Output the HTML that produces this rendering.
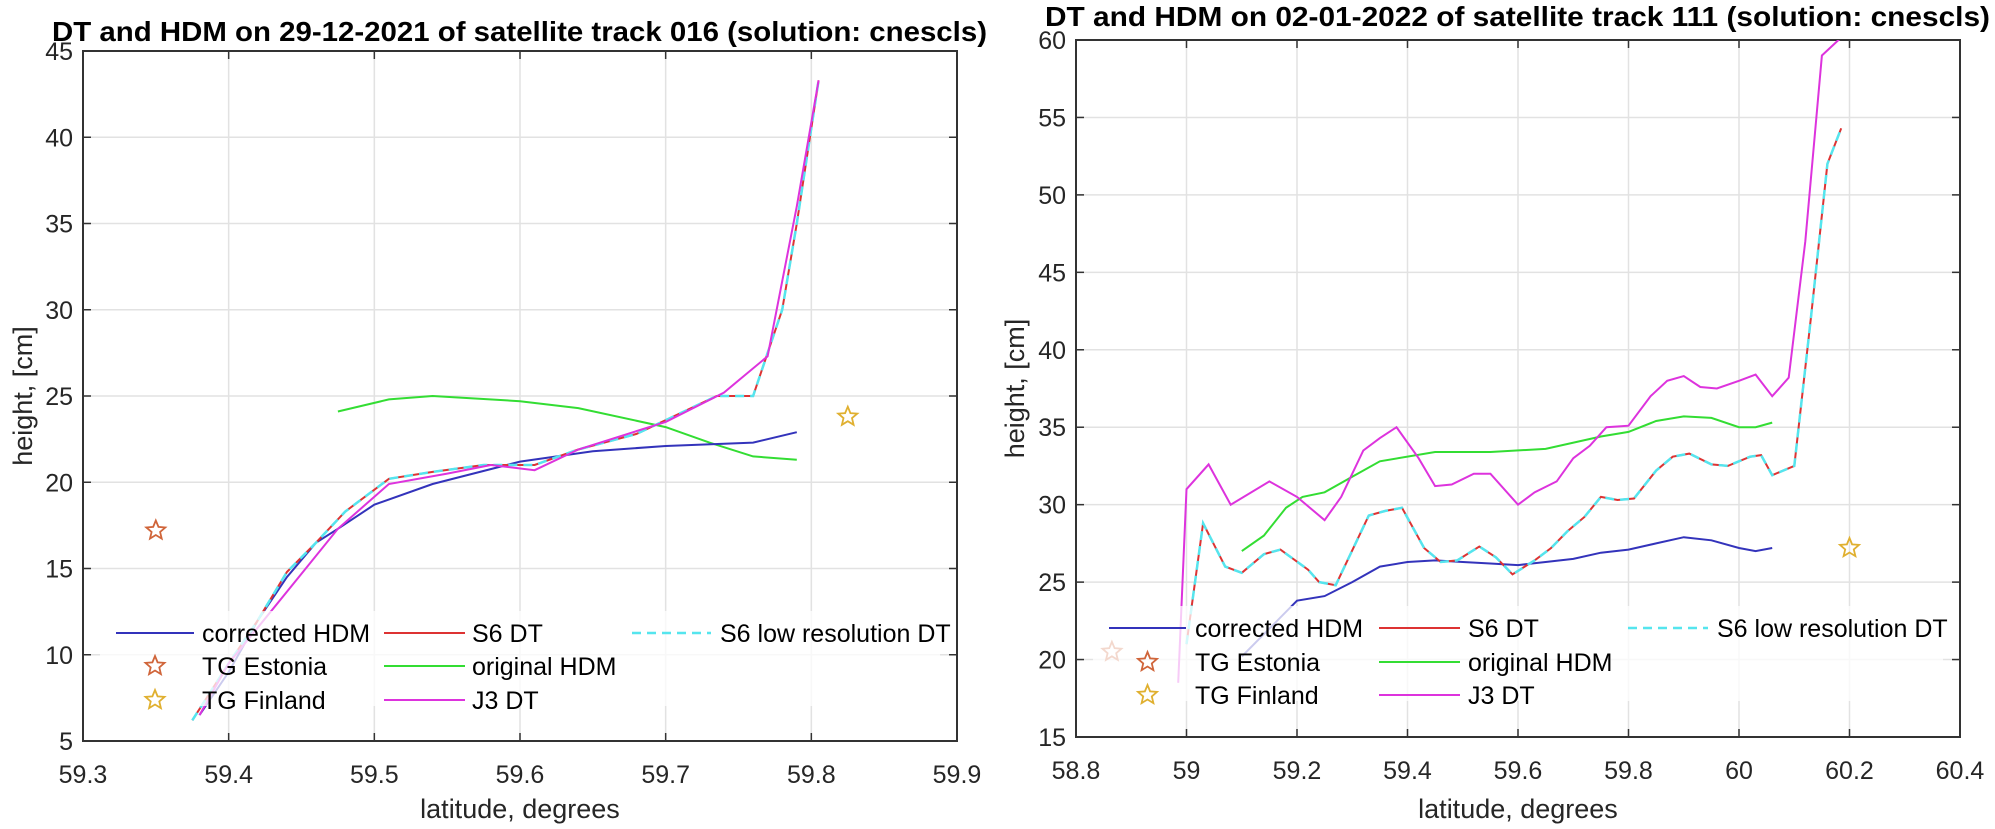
<!DOCTYPE html>
<html><head><meta charset="utf-8"><style>
html,body{margin:0;padding:0;background:#fff;}
svg{display:block;font-family:"Liberation Sans",Arial,sans-serif;}
</style></head><body>
<svg id="s" width="1995" height="829" xmlns="http://www.w3.org/2000/svg"></svg>
<script>
const S=document.getElementById('s');let h='';
function ax(o){
 const X=v=>o.x0+(v-o.xa)/(o.xb-o.xa)*(o.x1-o.x0), Y=v=>o.y1-(v-o.ya)/(o.yb-o.ya)*(o.y1-o.y0);
 h+=`<defs><clipPath id="${o.id}"><rect x="${o.x0}" y="${o.y0}" width="${o.x1-o.x0}" height="${o.y1-o.y0}"/></clipPath></defs>`;
 for(const t of o.xt){const x=X(t);h+=`<line x1="${x}" y1="${o.y0}" x2="${x}" y2="${o.y1}" stroke="#e2e2e2" stroke-width="1.5"/>`;
  h+=`<line x1="${x}" y1="${o.y1}" x2="${x}" y2="${o.y1-8}" stroke="#333" stroke-width="1.5"/><line x1="${x}" y1="${o.y0}" x2="${x}" y2="${o.y0+8}" stroke="#333" stroke-width="1.5"/>`;
  h+=`<text x="${x}" y="${o.y1+42}" font-size="25" text-anchor="middle" fill="#262626">${o.xf(t)}</text>`;}
 for(const t of o.yt){const y=Y(t);h+=`<line x1="${o.x0}" y1="${y}" x2="${o.x1}" y2="${y}" stroke="#e2e2e2" stroke-width="1.5"/>`;
  h+=`<line x1="${o.x0}" y1="${y}" x2="${o.x0+8}" y2="${y}" stroke="#333" stroke-width="1.5"/><line x1="${o.x1}" y1="${y}" x2="${o.x1-8}" y2="${y}" stroke="#333" stroke-width="1.5"/>`;
  h+=`<text x="${o.x0-10}" y="${y+9}" font-size="25" text-anchor="end" fill="#262626">${t}</text>`;}
 h+=`<rect x="${o.x0}" y="${o.y0}" width="${o.x1-o.x0}" height="${o.y1-o.y0}" fill="none" stroke="#333" stroke-width="2"/>`;
 h+=`<text x="${(o.x0+o.x1)/2}" y="818" font-size="27" text-anchor="middle" fill="#262626">latitude, degrees</text>`;
 h+=`<text transform="translate(${o.ylx},${(o.y0+o.y1)/2}) rotate(-90)" font-size="27" text-anchor="middle" fill="#262626">height, [cm]</text>`;
 h+=`<text x="${o.tx}" y="${o.ty}" font-size="28" font-weight="bold" textLength="${o.tw}" lengthAdjust="spacingAndGlyphs" fill="#000">${o.title}</text>`;
 const P=(d)=>d.map((p,i)=>(i?'L':'M')+X(p[0]).toFixed(1)+' '+Y(p[1]).toFixed(1)).join('');
 h+=`<g clip-path="url(#${o.id})" fill="none">`;
 h+=`<path d="${P(o.green)}" stroke="#33dd33" stroke-width="2"/>`;
 h+=`<path d="${P(o.blue)}" stroke="#3333bb" stroke-width="2"/>`;
 h+=`<path d="${P(o.s6)}" stroke="#dd3333" stroke-width="2"/>`;
 h+=`<path d="${P(o.s6)}" stroke="#55e5ee" stroke-width="2.5" stroke-dasharray="9,6"/>`;
 h+=`<path d="${P(o.j3)}" stroke="#dd33dd" stroke-width="2"/>`;
 h+=`</g>`;
 for(const st of o.stars){h+=star(X(st[0]),Y(st[1]),st[2]);}
 const L=o.leg;h+=`<rect x="${L.x-10}" y="${L.y-22}" width="${L.w}" height="95" fill="#fff" opacity="0.75"/>`;
 const ln=(x1,x2,y,c,d)=>`<line x1="${x1}" y1="${y}" x2="${x2}" y2="${y}" stroke="${c}" stroke-width="${d?2.5:2}" ${d?'stroke-dasharray="9,6"':''}/>`;
 const tx=(x,y,t)=>`<text x="${x}" y="${y+9}" font-size="25" fill="#000">${t}</text>`;
 const r=L.rows,c=L.cols;
 h+=ln(c[0][0],c[0][1],r[0],'#3333bb')+tx(c[0][2],r[0],'corrected HDM');
 h+=ln(c[1][0],c[1][1],r[0],'#dd3333')+tx(c[1][2],r[0],'S6 DT');
 h+=ln(c[2][0],c[2][1],r[0],'#55e5ee',1)+tx(c[2][2],r[0],'S6 low resolution DT');
 h+=star((c[0][0]+c[0][1])/2,r[1],'#d0653a')+tx(c[0][2],r[1],'TG Estonia');
 h+=ln(c[1][0],c[1][1],r[1],'#33dd33')+tx(c[1][2],r[1],'original HDM');
 h+=star((c[0][0]+c[0][1])/2,r[2],'#e0b030')+tx(c[0][2],r[2],'TG Finland');
 h+=ln(c[1][0],c[1][1],r[2],'#dd33dd')+tx(c[1][2],r[2],'J3 DT');
}
function star(cx,cy,col){let p=[];for(let i=0;i<10;i++){const a=-Math.PI/2+i*Math.PI/5,R=i%2?4.5:10;p.push((cx+R*Math.cos(a)).toFixed(1)+','+(cy+R*Math.sin(a)).toFixed(1));}
 return `<polygon points="${p.join(' ')}" fill="none" stroke="${col}" stroke-width="1.8"/>`;}
ax({id:'c1',x0:83,x1:957,y0:51,y1:741,xa:59.3,xb:59.9,ya:5,yb:45,
 xt:[59.3,59.4,59.5,59.6,59.7,59.8,59.9],yt:[5,10,15,20,25,30,35,40,45],xf:t=>t.toFixed(1),
 ylx:32,tx:52,tw:935,ty:41,title:'DT and HDM on 29-12-2021 of satellite track 016 (solution: cnescls)',
 blue:[[59.38,6.5],[59.4,9],[59.42,12],[59.44,14.5],[59.46,16.5],[59.475,17.3],[59.5,18.7],[59.54,19.9],[59.6,21.2],[59.65,21.8],[59.7,22.1],[59.76,22.3],[59.79,22.9]],
 s6:[[59.375,6.2],[59.4,9.5],[59.42,12],[59.44,14.8],[59.46,16.5],[59.48,18.3],[59.51,20.2],[59.54,20.6],[59.575,21],[59.61,21],[59.64,21.9],[59.68,22.8],[59.71,24],[59.735,25],[59.76,25],[59.78,30],[59.79,35],[59.805,43.3]],
 j3:[[59.38,6.5],[59.4,9.5],[59.45,14.7],[59.475,17.3],[59.51,19.9],[59.55,20.5],[59.58,21],[59.61,20.7],[59.64,21.9],[59.7,23.5],[59.74,25.2],[59.77,27.3],[59.79,36],[59.805,43.3]],
 green:[[59.475,24.1],[59.51,24.8],[59.54,25],[59.6,24.7],[59.64,24.3],[59.7,23.2],[59.73,22.3],[59.76,21.5],[59.79,21.3]],
 stars:[[59.35,17.2,'#d0653a'],[59.825,23.8,'#e0b030']],
 leg:{x:110,y:633,w:840,rows:[633,666,700],cols:[[116,194,202],[384,465,472],[632,711,720]]}});
ax({id:'c2',x0:1076,x1:1960,y0:40,y1:737,xa:58.8,xb:60.4,ya:15,yb:60,
 xt:[58.8,59,59.2,59.4,59.6,59.8,60,60.2,60.4],yt:[15,20,25,30,35,40,45,50,55,60],xf:t=>String(Math.round(t*10)/10),
 ylx:1024,tx:1045,tw:945,ty:26,title:'DT and HDM on 02-01-2022 of satellite track 111 (solution: cnescls)',
 blue:[[59.1,20.2],[59.15,22],[59.2,23.8],[59.25,24.1],[59.3,25],[59.35,26],[59.4,26.3],[59.45,26.4],[59.5,26.3],[59.55,26.2],[59.6,26.1],[59.65,26.3],[59.7,26.5],[59.75,26.9],[59.8,27.1],[59.85,27.5],[59.9,27.9],[59.95,27.7],[60.0,27.2],[60.03,27.0],[60.06,27.2]],
 s6:[[59.0,21],[59.03,28.8],[59.07,26],[59.1,25.6],[59.14,26.8],[59.17,27.1],[59.22,25.8],[59.24,25],[59.27,24.8],[59.33,29.3],[59.36,29.6],[59.39,29.8],[59.43,27.2],[59.46,26.3],[59.49,26.4],[59.53,27.3],[59.56,26.6],[59.59,25.5],[59.63,26.4],[59.66,27.2],[59.69,28.3],[59.72,29.2],[59.75,30.5],[59.78,30.3],[59.81,30.4],[59.85,32.2],[59.88,33.1],[59.91,33.3],[59.95,32.6],[59.98,32.5],[60.02,33.1],[60.04,33.2],[60.06,31.9],[60.1,32.5],[60.13,42],[60.16,52],[60.185,54.3]],
 j3:[[58.985,18.5],[59.0,31],[59.04,32.6],[59.08,30],[59.15,31.5],[59.2,30.5],[59.25,29],[59.28,30.5],[59.32,33.5],[59.35,34.3],[59.38,35],[59.42,33],[59.45,31.2],[59.48,31.3],[59.52,32],[59.55,32],[59.6,30],[59.63,30.8],[59.67,31.5],[59.7,33],[59.73,33.8],[59.76,35],[59.8,35.1],[59.84,37],[59.87,38],[59.9,38.3],[59.93,37.6],[59.96,37.5],[60.0,38],[60.03,38.4],[60.06,37],[60.09,38.2],[60.12,47],[60.15,59],[60.18,60],[60.2,60.5]],
 green:[[59.1,27],[59.14,28],[59.18,29.8],[59.21,30.5],[59.25,30.8],[59.3,31.8],[59.35,32.8],[59.45,33.4],[59.55,33.4],[59.65,33.6],[59.75,34.4],[59.8,34.7],[59.85,35.4],[59.9,35.7],[59.95,35.6],[60.0,35],[60.03,35],[60.06,35.3]],
 stars:[[58.865,20.5,'#d0653a'],[60.2,27.2,'#e0b030']],
 leg:{x:1103,y:628,w:850,rows:[628,662,695],cols:[[1109,1186,1195],[1379,1460,1468],[1628,1708,1717]]}});
S.innerHTML=h;
</script>
</body></html>
